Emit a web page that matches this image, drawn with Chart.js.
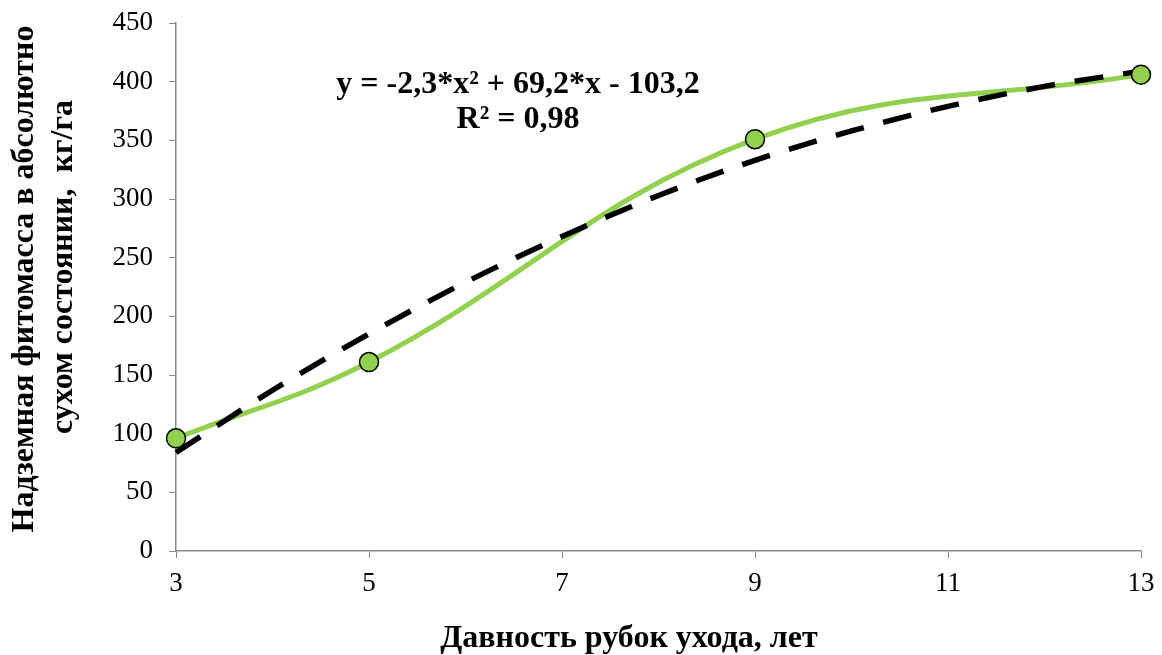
<!DOCTYPE html>
<html>
<head>
<meta charset="utf-8">
<script src="https://cdn.jsdelivr.net/npm/chart.js@4"></script>
<style>
  body { margin: 0; background: #fff; }
  canvas { display: block; }
</style>
</head>
<body>
<canvas id="biomassChart" width="1162" height="655"></canvas>
<script>
var years = [3, 5, 9, 13];
var biomass = [96, 161, 351, 406];
// trend line (polynomial fit shown in the label)
var trendYears = [3, 4, 5, 6, 7, 8, 9, 10, 11, 12, 13];
var trendValues = [84, 137, 185, 229, 268, 303, 333, 358, 379, 396, 409];
var xTicks = [3, 5, 7, 9, 11, 13];
var equation = ["y = -2,3*x² + 69,2*x - 103,2", "R² = 0,98"];
var xTitle = 'Давность рубок ухода, лет';
var yTitle = ['Надземная фитомасса в абсолютно', 'сухом состоянии,  кг/га'];

var serif = "'Liberation Serif', 'Times New Roman', serif";

function pairs(xs, ys) {
    return xs.map(function (x, i) { return { x: x, y: ys[i] }; });
}

var textLabels = {
    id: 'textLabels',
    afterDraw: function (chart) {
        var ctx = chart.ctx;
        ctx.save();
        ctx.fillStyle = '#000';
        ctx.font = 'bold 32px ' + serif;
        ctx.textAlign = 'center';
        ctx.textBaseline = 'alphabetic';
        // equation of the trend line
        ctx.fillText(equation[0], 518, 93);
        ctx.fillText(equation[1], 518, 128);
        // x axis title
        ctx.fillText(xTitle, 629, 647);
        // y axis title, two lines
        ctx.save();
        ctx.translate(33, 279);
        ctx.rotate(-Math.PI / 2);
        ctx.fillText(yTitle[0], 0, 0);
        ctx.restore();
        ctx.save();
        ctx.translate(72, 267);
        ctx.rotate(-Math.PI / 2);
        ctx.fillText(yTitle[1], 0, 0);
        ctx.restore();
        ctx.restore();
    }
};

var ctx = document.getElementById("biomassChart").getContext('2d');
var myChart = new Chart(ctx, {
    type: 'line',
    data: {
        datasets: [
            {
                data: pairs(years, biomass),
                showLine: false,
                pointRadius: 9.5,
                pointHoverRadius: 9.5,
                pointBackgroundColor: '#92D050',
                pointBorderColor: '#000',
                pointBorderWidth: 1.5,
                clip: false,
                order: 0
            },
            {
                data: pairs(trendYears, trendValues),
                borderColor: '#000',
                borderWidth: 5.5,
                borderDash: [29, 20],
                borderCapStyle: 'butt',
                pointRadius: 0,
                cubicInterpolationMode: 'monotone',
                clip: false,
                order: 1
            },
            {
                data: pairs(years, biomass),
                borderColor: '#92D050',
                borderWidth: 5,
                tension: 0.4,
                pointRadius: 0,
                clip: false,
                order: 2
            }
        ]
    },
    options: {
        responsive: false,
        animation: false,
        layout: { autoPadding: false, padding: { top: 23, right: 21, bottom: 0, left: 0 } },
        plugins: {
            legend: { display: false },
            tooltip: { enabled: false }
        },
        scales: {
            x: {
                type: 'linear',
                min: 3,
                max: 13,
                afterBuildTicks: function (scale) {
                    scale.ticks = xTicks.map(function (v) { return { value: v }; });
                },
                afterFit: function (scale) {
                    scale.height = 104;
                    scale.paddingLeft = 0;
                    scale.paddingRight = 0;
                },
                grid: { display: true, drawOnChartArea: false, tickLength: 7, color: '#898989' },
                border: { color: '#898989', width: 1.5 },
                ticks: { color: '#000', padding: 10, font: { family: serif, size: 27 }, maxRotation: 0 }
            },
            y: {
                min: 0,
                max: 450,
                afterFit: function (scale) {
                    scale.width = 176;
                    scale.paddingTop = 0;
                    scale.paddingBottom = 0;
                },
                grid: { display: true, drawOnChartArea: false, tickLength: 7, color: '#898989' },
                border: { color: '#898989', width: 1.5 },
                ticks: { stepSize: 50, color: '#000', padding: 16, font: { family: serif, size: 27 } }
            }
        }
    },
    plugins: [textLabels]
});
</script>
</body>
</html>
